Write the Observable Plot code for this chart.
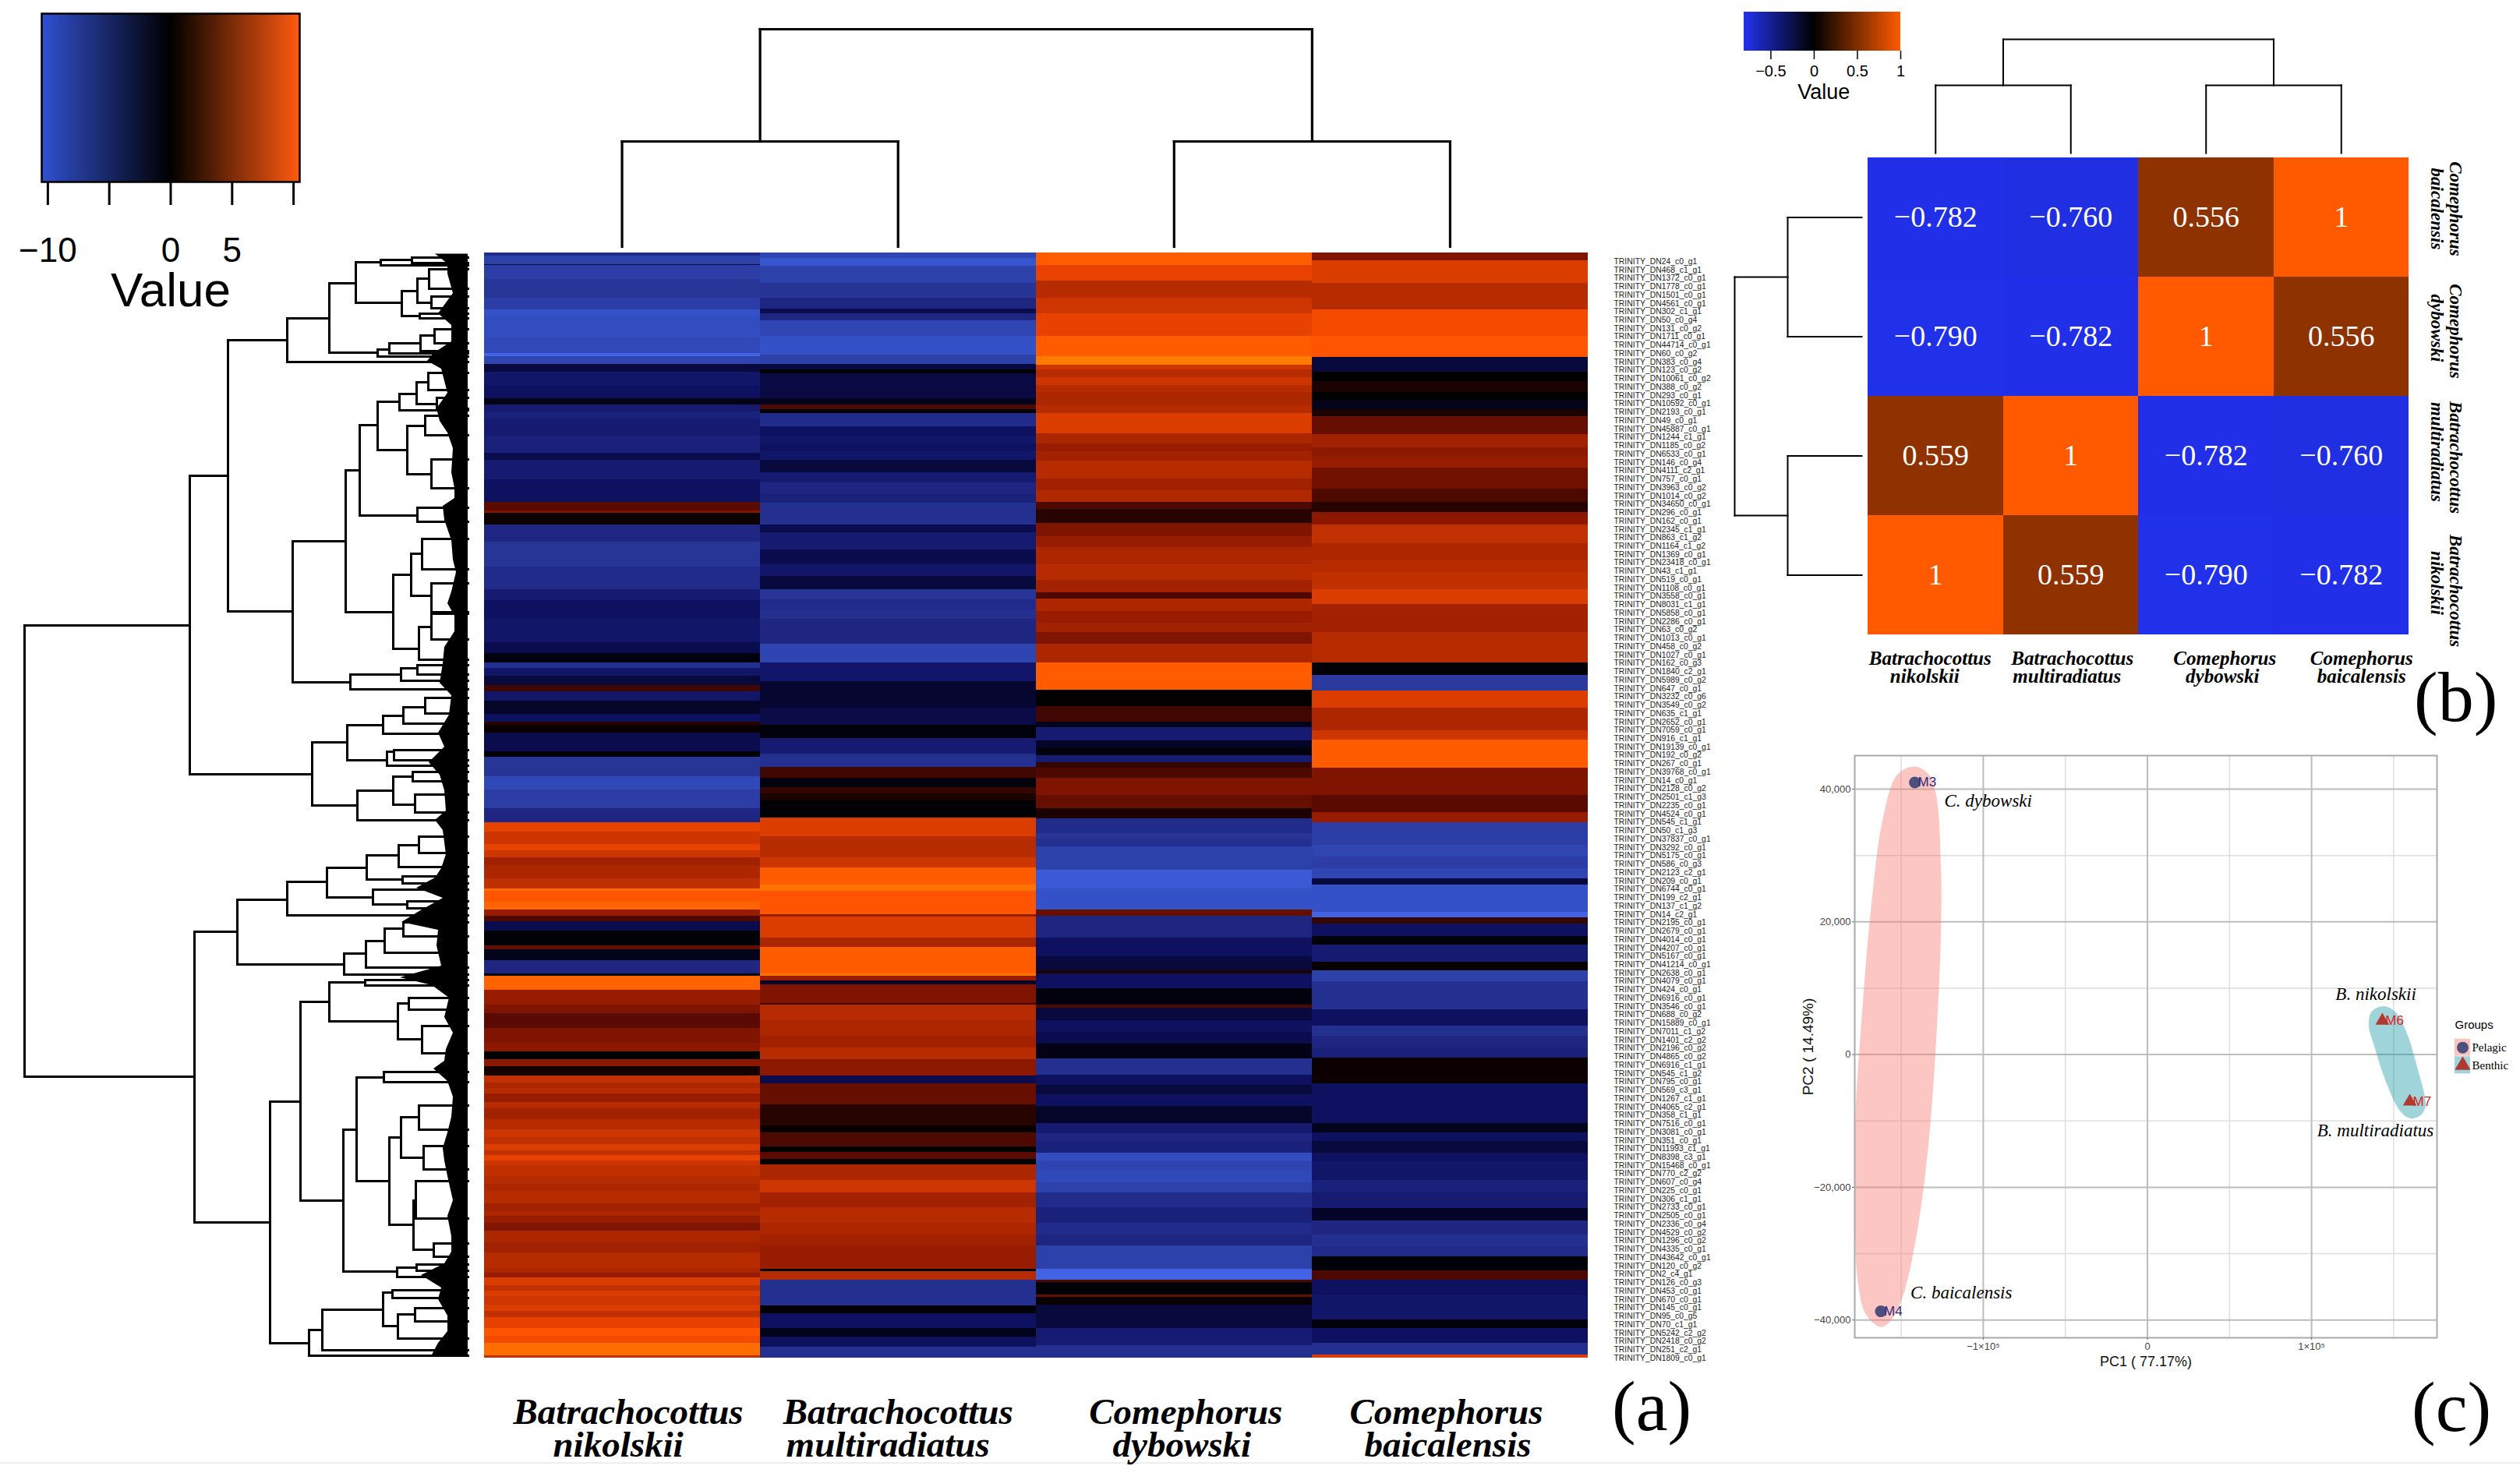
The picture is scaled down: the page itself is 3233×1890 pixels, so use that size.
<!DOCTYPE html>
<html><head><meta charset="utf-8">
<script src="https://cdn.jsdelivr.net/npm/d3@7"></script>
<script src="https://cdn.jsdelivr.net/npm/@observablehq/plot@0.6"></script>
<style>
html,body{margin:0;padding:0;background:#fff}
#root{position:relative;width:3233px;height:1890px;overflow:hidden;background:#fff}
.letter{position:absolute;font-family:"Liberation Serif";font-size:92px;line-height:1;color:#000;white-space:pre}
#rule{position:absolute;left:0;top:1876px;width:3233px;height:2px;background:#eee}
</style></head>
<body><div id="root"><div id="rule"></div></div>
<script>
// ---------- panel (a) data ----------
const speciesA = ["Batrachocottus nikolskii","Batrachocottus multiradiatus","Comephorus dybowski","Comephorus baicalensis"];
const colNik = [[4,-5.5],[15,-8],[16,-2],[34,-7.5],[58,-6.5],[73,-7.5],[82,-10],[109,-9.5],[129,-9],[133,-12],[143,-8.5],[153,-2],[170,-3.5],[187,-3],[195,-0.8],[204,-4],[213,-4.5],[235,-4],[257,-4.5],[266,-2.5],[291,-4],[320,-3],[331,3.5],[334,5],[349,0.5],[371,-5],[403,-6.5],[432,-5.5],[446,-4],[470,-3],[500,-3.5],[514,-2.5],[526,-0.5],[533,-6],[543,-3.5],[555,-2],[563,2.5],[575,-3.5],[592,-1.5],[602,-3],[606,1.5],[616,0.3],[640,-2.5],[647,-0.3],[672,-6.5],[689,-9],[713,-7.5],[731,-5],[743,9.5],[759,8.5],[767,9.5],[776,8.5],[786,6.5],[803,7],[816,8],[819,12],[833,10.5],[843,11.5],[851,6],[858,3],[870,-2.5],[889,-0.3],[894,4],[908,-1],[925,-5],[928,0],[946,11.5],[965,6],[976,5],[995,3.5],[1014,5],[1025,5.5],[1035,0],[1044,5.5],[1056,0.8],[1065,8],[1072,7],[1079,7.5],[1090,6],[1098,7.5],[1112,6.5],[1125,7.5],[1135,8.5],[1144,8],[1152,9],[1158,8],[1165,9.5],[1171,8.5],[1185,8],[1195,7.5],[1204,7],[1220,7.5],[1230,6.5],[1236,7],[1245,6],[1255,5],[1270,7],[1283,6.5],[1291,7.5],[1303,7.5],[1309,7],[1315,6],[1325,9],[1332,8],[1339,9],[1350,8.5],[1358,9],[1366,8],[1380,9.5],[1390,10.5],[1399,10],[1415,12],[1418,8]];
const colMul = [[7,-8.5],[17,-10.5],[39,-8],[58,-6.5],[72,-5],[78,-2.5],[87,-5],[107,-8.5],[131,-10],[143,-8],[150,-2],[155,0],[187,-2.2],[195,-1],[201,3],[206,-0.3],[223,-5.5],[235,-3],[245,-3.5],[255,-3],[266,-3.5],[282,-2],[295,-4],[310,-5],[321,-4.5],[349,-6],[359,-2.5],[381,-4],[400,-2.5],[415,-3.5],[432,-2],[445,-6.5],[458,-5.5],[470,-6],[502,-5],[526,-8.5],[550,-3.5],[584,-1.7],[606,-2.3],[623,-0.4],[643,-4],[660,-6],[674,2.5],[686,-0.5],[694,2],[703,1],[725,-0.2],[749,9],[776,7.5],[789,8.5],[811,11],[819,12.5],[849,10.5],[852,6],[879,9],[891,7],[925,11],[928,12.5],[934,6],[939,-1.5],[963,5],[965,2.5],[985,7.5],[1005,7],[1020,6.5],[1035,7.5],[1056,5.5],[1066,-2.5],[1093,4],[1120,1.5],[1129,0.3],[1147,3],[1154,0],[1163,3.5],[1170,0],[1190,7],[1206,8.5],[1225,6.5],[1245,7.5],[1260,7],[1274,6.5],[1304,6],[1307,0],[1318,7.5],[1351,-6],[1361,-0.2],[1380,-3],[1391,-1],[1404,-3],[1418,-6]];
const colDyb = [[16,11],[36,9.5],[58,7.5],[78,8.5],[107,9.5],[133,11],[144,13],[150,8.5],[160,7.5],[170,8.5],[179,7.5],[196,7],[206,7.5],[232,9],[245,7],[255,6],[267,6.5],[290,7.5],[305,6.5],[320,7.2],[329,3],[347,1.5],[364,5],[378,6],[400,7],[420,7.5],[436,6.5],[444,3],[460,7],[475,6],[487,6.5],[502,5],[526,7],[561,11],[582,0],[602,2.5],[609,-1],[626,-4],[635,-1.5],[645,-0.5],[654,-4],[661,2],[674,3],[696,5],[713,4],[726,1],[745,-5.5],[752,-6.5],[762,-6],[792,-8],[816,-11],[843,-10],[851,4],[879,-5],[903,-3],[921,-2],[925,1],[944,-3],[965,-0.5],[969,3],[985,-2],[1000,-3],[1015,-2.5],[1034,-0.7],[1055,-6],[1068,-3],[1080,-2],[1095,-3],[1117,-1.5],[1130,-4],[1140,-5],[1155,-4.5],[1165,-9.5],[1178,-8.5],[1193,-9],[1206,-8],[1225,-5.5],[1245,-4.5],[1260,-5.5],[1274,-5],[1304,-8],[1318,-12],[1321,3],[1337,-0.3],[1340,4],[1350,0.3],[1380,-2],[1402,-4],[1418,-6]];
const colBai = [[10,5],[39,9],[73,7.5],[107,10],[134,10.5],[153,-2],[165,0],[179,1],[189,0],[201,-1],[210,1],[233,4],[250,6.5],[262,5.5],[276,6],[303,4.5],[320,3],[333,1.5],[349,5.5],[373,8],[395,7],[410,7.5],[432,8],[451,9],[487,6.5],[526,7.5],[542,-0.2],[562,-7],[584,9],[613,7],[625,8.5],[661,11],[696,5],[718,3.5],[731,6],[760,-7.5],[775,-8.5],[790,-7.5],[803,-8.5],[811,-2],[846,-10],[853,-12],[861,2],[877,-3],[888,-0.3],[910,-4],[921,0.3],[935,-8],[971,-6],[992,-3],[1005,-6],[1020,-5],[1033,-4.5],[1066,0.5],[1117,-3],[1129,-1],[1140,-3],[1155,-2],[1166,-3],[1190,-3.5],[1205,-4.5],[1226,-4],[1242,-1.5],[1260,-5],[1275,-6],[1288,-5.5],[1306,-0.3],[1318,3],[1337,-3],[1369,-3.5],[1380,-0.5],[1399,-3],[1414,-6],[1418,9]];
const geneIds = ["24_c0_g1","468_c1_g1","1372_c0_g1","1778_c0_g1","1501_c0_g1","4561_c0_g1","302_c1_g1","50_c0_g4","131_c0_g2","1711_c0_g1","44714_c0_g1","60_c0_g2","383_c0_g4","123_c0_g2","10061_c0_g2","388_c0_g2","293_c0_g1","10592_c0_g1","2193_c0_g1","49_c0_g1","45887_c0_g1","1244_c1_g1","1185_c0_g2","6533_c0_g1","146_c0_g4","4111_c2_g1","757_c0_g1","3963_c0_g2","1014_c0_g2","34650_c0_g1","296_c0_g1","162_c0_g1","2345_c1_g1","863_c1_g2","1164_c1_g2","1369_c0_g1","23418_c0_g1","43_c1_g1","519_c0_g1","1108_c0_g1","3558_c0_g1","8031_c1_g1","5858_c0_g1","2286_c0_g1","63_c0_g2","1013_c0_g1","458_c0_g2","1027_c0_g1","162_c0_g3","1840_c2_g1","5989_c0_g2","647_c0_g1","3232_c0_g6","3549_c0_g2","635_c1_g1","2652_c0_g1","7059_c0_g1","916_c1_g1","19139_c0_g1","192_c0_g2","267_c0_g1","39768_c0_g1","14_c0_g1","2128_c0_g2","2501_c1_g3","2235_c0_g1","4524_c0_g1","545_c1_g1","50_c1_g3","37837_c0_g1","3292_c0_g1","5175_c0_g1","586_c0_g3","2123_c2_g1","209_c0_g1","6744_c0_g1","199_c2_g1","137_c1_g2","14_c2_g1","2195_c0_g1","2679_c0_g1","4014_c0_g1","4207_c0_g1","5167_c0_g1","41214_c0_g1","2638_c0_g1","4079_c0_g1","424_c0_g1","6916_c0_g1","3546_c0_g1","688_c0_g2","15889_c0_g1","7011_c1_g2","1401_c2_g2","2196_c0_g2","4865_c0_g2","6916_c1_g1","545_c1_g2","795_c0_g1","569_c3_g1","1267_c1_g1","4065_c2_g1","358_c1_g1","7516_c0_g1","3081_c0_g1","351_c0_g1","11993_c1_g1","8398_c3_g1","15468_c0_g1","770_c2_g2","607_c0_g4","225_c0_g1","306_c1_g1","2733_c0_g1","2505_c0_g1","2336_c0_g4","4529_c0_g2","1296_c0_g2","4335_c0_g1","43642_c0_g1","120_c0_g2","2_c4_g1","126_c0_g3","453_c0_g1","670_c0_g1","145_c0_g1","95_c0_g5","70_c1_g1","5242_c2_g2","2418_c0_g2","251_c2_g1","1809_c0_g1"];
// merges: [height, rank of upper child, rank of lower child, height of upper child, height of lower child]
const rowTreeA = [
[569,478,1057,357,351],[357,286,669,308,200],[308,112,460,232,225],[232,84,140,178,82],[178,39,128,144,116],[144,12,64,112,85],[112,9,16,72,40],[72,6,13,45,22],[85,49,81,65,62],[65,33,64,50,47],[50,21,46,35,30],[47,56,71,30,25],[62,78,84,30,35],[116,124,133,101,55],[101,116,129,61,40],[61,106,126,43,35],[43,98,116,25,25],
[225,370,551,157,151],[157,279,461,139,96],[139,221,337,116,65],[116,191,253,88,78],[88,181,202,66,49],[66,166,194,51,40],[51,154,176,30,28],[40,186,200,22,20],[78,222,284,55,47],[55,209,234,35,25],[47,265,302,30,28],[65,327,345,40,42],[96,413,508,73,63],[73,386,440,59,47],[59,367,406,35,30],[47,424,461,30,22],[63,480,522,47,40],[47,463,496,25,28],[151,541,560,86,68],[86,533,549,65,50],[65,529,541,40,35],
[200,628,709,155,142],[155,606,651,109,104],[109,594,617,83,75],[83,583,604,55,50],[55,571,591,30,35],[104,640,658,95,75],[95,638,651,70,60],[142,690,728,96,53],[96,672,708,71,68],[71,666,678,50,40],[68,695,718,45,40],
[351,871,1244,296,254],[296,830,913,232,159],[232,807,850,181,152],[181,789,827,130,122],[130,773,804,89,84],[89,760,788,63,49],[63,749,770,40,30],[84,800,809,50,45],[122,817,836,101,78],[78,832,841,60,45],[159,899,926,131,80],[131,883,917,107,80],[107,867,898,83,78],[83,859,877,55,60],
[254,1089,1399,215,204],[215,961,1216,178,160],[178,936,986,132,90],[132,933,940,110,70],[90,963,1009,76,59],[76,956,971,50,40],[59,992,1027,40,35],[160,1125,1307,143,91],[143,1058,1191,108,101],[108,1051,1064,59,49],[101,1135,1247,86,70],[86,1109,1161,63,57],[63,1094,1125,45,38],[57,1146,1176,40,30],[70,1216,1279,67,44],[67,1191,1239,45,30],[44,1271,1288,25,25],[91,1302,1314,66,50],[66,1298,1306,35,30],
[204,1382,1415,187,150],[187,1356,1408,109,83],[109,1334,1377,97,90],[97,1331,1341,65,50],[90,1362,1393,68,60],[68,1354,1371,40,30]];
const brushRank = [1.5,14,27,52,78,93,114,129,139,149,180,200,216,231,251,282,302,315,325,343,369,394,410,435,450,466,486,506,527,552,568,593,616,634,654,670,690,716,728,741,772,790,802,815,828,846,859,869,889,915,930,940,956,981,1001,1022,1037,1047,1063,1083,1109,1129,1149,1165,1185,1216,1236,1262,1282,1297,1312,1328,1343,1364,1384,1399,1414,1417];
const brushHeight = [42,26,26,19,38,21,21,44,52,34,26,40,36,26,19,21,17,17,32,30,21,19,15,21,26,17,17,30,32,36,21,24,38,30,50,36,30,28,42,32,28,34,42,66,32,64,85,38,40,34,87,46,24,30,19,28,30,44,26,19,21,26,32,30,26,19,26,21,21,30,60,34,38,26,26,38,46,46];
const colTreeA = [[279,1,3,135,135],[135,0.5,1.5,0,0],[135,2.5,3.5,0,0]];
const keyTicksA = [-10,-5,0,5,10];
const keyLabelsA = ["−10","","0","5",""];

// ---------- panel (b) data ----------
const colsB = ["Batrachocottus nikolskii","Batrachocottus multiradiatus","Comephorus dybowski","Comephorus baicalensis"];
const rowsB = ["Comephorus baicalensis","Comephorus dybowski","Batrachocottus multiradiatus","Batrachocottus nikolskii"];
const corrB = [[-0.782,-0.760,0.556,1],[-0.790,-0.782,1,0.556],[0.559,1,-0.782,-0.760],[1,0.559,-0.790,-0.782]];
const corrText = [["−0.782","−0.760","0.556","1"],["−0.790","−0.782","1","0.556"],["0.559","1","−0.782","−0.760"],["1","0.559","−0.790","−0.782"]];
const colTreeB = [[146,1,3,87,87],[87,0.5,1.5,0,0],[87,2.5,3.5,0,0]];
const rowTreeB = [[163,1,3,95,95],[95,0.5,1.5,0,0],[95,2.5,3.5,0,0]];
const keyTicksB = [-0.5,0,0.5,1];
const keyLabelsB = ["−0.5","0","0.5","1"];

// ---------- panel (c) data ----------
const samples = ["M3","M4","M6","M7"];
const pc1 = [-141700,-162400,143100,159800];
const pc2 = [41000,-38700,5100,-7100];
const pelagicEdgeX = [-141700,-133200,-128700,-125800,-125800,-128200,-133200,-140500,-149400,-156700,-162600,-171500,-176500,-178200,-177900,-174400,-168500,-161100,-152300];
const pelagicEdgeY = [43400,42200,39100,28660,18200,4310,-13080,-27000,-36730,-40200,-41050,-39170,-33950,-23500,-9600,4310,21700,35600,42200];
const benthicEdgeX = [143800,151100,158500,164400,168800,169400,165900,160000,154100,145200,137900,134900,136400];
const benthicEdgeY = [7300,6400,2920,-1950,-6120,-7860,-9250,-9600,-8560,-4040,1530,4310,6400];
const majorX = [-100000,0,100000], minorX = [-150000,-50000,50000,150000];
const majorY = [-40000,-20000,0,20000,40000], minorY = [-30000,-10000,10000,30000];
const xTickLabels = ["−1×10⁵","0","1×10⁵"];
const yTickLabels = ["−40,000","−20,000","0","20,000","40,000"];
const groups = ["Pelagic","Benthic"];

// ---------- helpers ----------
const root = document.getElementById("root");
const SANS = "Liberation Sans", SERIF = "Liberation Serif";
const baseStyle = {background:"none",fontFamily:SANS,overflow:"visible"};
function place(svg,left,top){
  svg.style.position="absolute";svg.style.left=left+"px";svg.style.top=top+"px";
  svg.style.maxWidth="none";root.appendChild(svg);
}
function letter(t,left,top){const d=document.createElement("div");d.className="letter";d.textContent=t;d.style.left=left+"px";d.style.top=top+"px";root.appendChild(d);}
function mergeSegments(ms){
  return ms.flatMap(([h,a,b,ha,hb])=>[{h1:h,r1:a,h2:h,r2:b},{h1:h,r1:a,h2:ha,r2:a},{h1:h,r1:b,h2:hb,r2:b}]);
}
const colorKeyA = {type:"linear",domain:[-10.5,0,10.5],range:["#3050d0","#000000","#ff5a10"]};
const colorA = {type:"linear",domain:[-13,-10.5,-9,-7,-5,-3,-1.5,0,3.5,6,8,9.5,10.5,13],
  range:["#4a6cf0","#3656d0","#3048b8","#2a3a9e","#1e2682","#0e1060","#05052a","#000000","#5a0a00","#981c00","#c03000","#e84200","#ff5400","#ff7c00"]};
const colorB = {type:"linear",domain:[-0.81,0,1],range:["#2232f0","#000000","#ff5a00"]};
const boldItalic = {fontFamily:SERIF,fontWeight:"bold",fontStyle:"italic",fill:"#000"};

// ---------- (a) colour key ----------
const keyCellsA = d3.range(-10.5,10.5,0.25);
place(Plot.plot({width:420,height:410,marginLeft:53,marginRight:36,marginTop:17,marginBottom:177,style:baseStyle,
  x:{domain:[-10.5,10.5]},y:{domain:[0,1],axis:null},color:colorKeyA,
  marks:[
    Plot.rect(keyCellsA,{x1:d=>d,x2:d=>d+0.26,y1:()=>0,y2:()=>1,fill:d=>d+0.125,shapeRendering:"crispEdges"}),
    Plot.frame({stroke:"#000",strokeWidth:2.5}),
    Plot.axisX({ticks:keyTicksA,tickSize:30,strokeWidth:3,tickPadding:41,fontSize:44,label:null,tickFormat:d=>keyLabelsA[keyTicksA.indexOf(d)],fill:"#000"}),
    Plot.text(["Value"],{x:()=>0,frameAnchor:"bottom",lineAnchor:"middle",dy:140,fontSize:62,fill:"#000"})
  ]}),0,0);

// ---------- (a) column dendrogram ----------
place(Plot.plot({width:1440,height:290,marginLeft:10.5,marginRight:13,marginTop:7,marginBottom:4,style:baseStyle,
  x:{domain:[0,4],axis:null},y:{domain:[0,279],axis:null},
  marks:[Plot.link(mergeSegments(colTreeA),{x1:"r1",x2:"r2",y1:"h1",y2:"h2",stroke:"#000",strokeWidth:3.2,strokeLinecap:"square"})]}),610,30);

// ---------- (a) row dendrogram ----------
const extended = rowTreeA.map(([h,a,b,ha,hb])=>{
  const isMerge=(hc,r)=>rowTreeA.some(m=>m[0]===hc&&m[1]<=r&&r<=m[2]);
  return [h,a,b,isMerge(ha,a)?ha:0,isMerge(hb,b)?hb:0];
});
place(Plot.plot({width:610,height:1426,marginLeft:0,marginRight:10,marginTop:4,marginBottom:4,style:baseStyle,
  x:{domain:[600,0],axis:null},y:{domain:[0,1418],reverse:true,axis:null},
  marks:[
    Plot.link(mergeSegments(extended),{x1:"h1",x2:"h2",y1:"r1",y2:"r2",stroke:"#000",strokeWidth:3,strokeLinecap:"square"}),
    Plot.areaX(brushRank,{y:d=>d,x1:(d,i)=>brushHeight[i],x2:()=>0,fill:"#000"})
  ]}),0,320);

// ---------- (a) heat map ----------
const stripes = [[speciesA[0],colNik],[speciesA[1],colMul],[speciesA[2],colDyb],[speciesA[3],colBai]]
  .flatMap(([species,col])=>col.map(([end,value],i)=>({species,start:i?col[i-1][0]:0,end,value})));
const labelFirst=11, labelStep=10.74;
const headA = [["Batrachocottus",0,8,0],["nikolskii",0,-5,1],["Batrachocottus",1,0,0],["multiradiatus",1,-13,1],["Comephorus",2,15,0],["dybowski",2,10,1],["Comephorus",3,-5,0],["baicalensis",3,-3,1]];
place(Plot.plot({width:1650,height:1570,marginLeft:10.5,marginRight:223,marginTop:4,marginBottom:148,style:baseStyle,
  x:{type:"band",domain:speciesA,padding:0,round:false,axis:null},
  y:{domain:[0,1418],reverse:true,axis:null},color:colorA,
  marks:[
    Plot.barY(stripes,{x:"species",y1:"start",y2:"end",fill:"value",inset:0,shapeRendering:"crispEdges"}),
    Plot.text(geneIds,{y:(d,i)=>labelFirst+i*labelStep,text:d=>"TRINITY_DN"+d,frameAnchor:"right",textAnchor:"start",lineAnchor:"middle",dx:33,fontSize:10.4,fill:"#222"}),
    ...headA.map(([t,c,dx,line])=>Plot.text([t],{x:()=>speciesA[c],frameAnchor:"bottom",lineAnchor:"middle",dx,dy:line?111:69,fontSize:47,...boldItalic}))
  ]}),610,320);
letter("(a)",2068,1758);

// ---------- (b) colour key ----------
const keyCellsB = d3.range(-0.81,1,0.01);
place(Plot.plot({width:250,height:135,marginLeft:17,marginRight:32,marginTop:15,marginBottom:70,style:baseStyle,
  x:{domain:[-0.81,1]},y:{domain:[0,1],axis:null},color:colorB,
  marks:[
    Plot.rect(keyCellsB,{x1:d=>d,x2:d=>d+0.0105,y1:()=>0,y2:()=>1,fill:d=>d+0.005,shapeRendering:"crispEdges"}),
    Plot.axisX({ticks:keyTicksB,tickSize:11,strokeWidth:1.5,tickPadding:7,fontSize:20,label:null,tickFormat:d=>keyLabelsB[keyTicksB.indexOf(d)],fill:"#000"}),
    Plot.text(["Value"],{x:()=>0.11,frameAnchor:"bottom",lineAnchor:"middle",dy:53,fontSize:27,fill:"#000"})
  ]}),2220,0);

// ---------- (b) dendrograms ----------
place(Plot.plot({width:710,height:160,marginLeft:6,marginRight:10,marginTop:10,marginBottom:4,style:baseStyle,
  x:{domain:[0,4],axis:null},y:{domain:[0,146],axis:null},
  marks:[Plot.link(mergeSegments(colTreeB),{x1:"r1",x2:"r2",y1:"h1",y2:"h2",stroke:"#000",strokeWidth:2,strokeLinecap:"square"})]}),2390,40);
place(Plot.plot({width:180,height:620,marginLeft:10,marginRight:7,marginTop:7,marginBottom:1,style:baseStyle,
  x:{domain:[163,0],axis:null},y:{domain:[0,4],reverse:true,axis:null},
  marks:[Plot.link(mergeSegments(rowTreeB),{x1:"h1",x2:"h2",y1:"r1",y2:"r2",stroke:"#000",strokeWidth:2,strokeLinecap:"square"})]}),2215,195);

// ---------- (b) heat map ----------
const cellsB = rowsB.flatMap((r,i)=>colsB.map((c,j)=>({row:r,col:c,value:corrB[i][j],label:corrText[i][j]})));
const sideB = [["Comephorus",0,60,-11],["baicalensis",0,36,-11],["Comephorus",1,60,-7],["dybowski",1,36,-11],["Batrachocottus",2,60,2],["multiradiatus",2,36,-5],["Batrachocottus",3,60,20],["nikolskii",3,36,10]];
const footB = [["Batrachocottus",0,-7,30],["nikolskii",0,-14,53],["Batrachocottus",1,2,30],["multiradiatus",1,-5,53],["Comephorus",2,24,30],["dybowski",2,21,53],["Comephorus",3,26,30],["baicalensis",3,26,53]];
place(Plot.plot({width:840,height:700,marginLeft:16,marginRight:130,marginTop:12,marginBottom:76,style:baseStyle,
  x:{type:"band",domain:colsB,padding:0,round:false,axis:null},
  y:{type:"band",domain:rowsB,padding:0,round:false,axis:null},color:colorB,
  marks:[
    Plot.cell(cellsB,{x:"col",y:"row",fill:"value",inset:0,shapeRendering:"crispEdges"}),
    Plot.text(cellsB,{x:"col",y:"row",text:"label",fill:"#fff",fontFamily:SERIF,fontSize:38}),
    ...sideB.map(([t,r,dx,dy])=>Plot.text([t],{y:()=>rowsB[r],frameAnchor:"right",textAnchor:"middle",lineAnchor:"middle",rotate:90,dx,dy,fontSize:23,...boldItalic})),
    ...footB.map(([t,c,dx,dy])=>Plot.text([t],{x:()=>colsB[c],frameAnchor:"bottom",lineAnchor:"middle",dx,dy,fontSize:25,...boldItalic}))
  ]}),2380,190);
letter("(b)",3097,848);

// ---------- (c) PCA ----------
const pelagicEdge = pelagicEdgeX.map((x,i)=>({x,y:pelagicEdgeY[i]}));
const benthicEdge = benthicEdgeX.map((x,i)=>({x,y:benthicEdgeY[i]}));
const pts = samples.map((s,i)=>({s,x:pc1[i],y:pc2[i]}));
const notes = [{t:"C. dybowski",x:-123700,y:38200},{t:"C. baicalensis",x:-144300,y:-35900},{t:"B. nikolskii",x:114600,y:9040},{t:"B. multiradiatus",x:103400,y:-11480}];
place(Plot.plot({width:850,height:830,marginLeft:89,marginRight:14,marginTop:19,marginBottom:64,style:baseStyle,
  x:{domain:[-178300,176400]},y:{domain:[-42680,45050]},
  marks:[
    Plot.ruleX(minorX,{stroke:"#dedede",strokeWidth:1.5}),
    Plot.ruleY(minorY,{stroke:"#dedede",strokeWidth:1.5}),
    Plot.ruleX(majorX,{stroke:"#bdbdbd",strokeWidth:2}),
    Plot.ruleY(majorY,{stroke:"#bdbdbd",strokeWidth:2}),
    Plot.line(pelagicEdge,{x:"x",y:"y",fill:"#f8766d",fillOpacity:0.42,stroke:"none",curve:"catmull-rom-closed"}),
    Plot.line(benthicEdge,{x:"x",y:"y",fill:"#0c93a2",fillOpacity:0.4,stroke:"none",curve:"catmull-rom-closed"}),
    Plot.frame({stroke:"#aaa",strokeWidth:2}),
    Plot.dot(pts.slice(0,2),{x:"x",y:"y",r:7.5,fill:"#4f4f7e",stroke:"none"}),
    Plot.dot(pts.slice(2),{x:"x",y:"y",r:6.5,symbol:"triangle",fill:"#b03a30",stroke:"none"}),
    Plot.text(pts.slice(0,2),{x:"x",y:"y",text:"s",textAnchor:"start",dx:4,fontSize:17,fill:"#2c2c7c"}),
    Plot.text(pts.slice(2),{x:"x",y:"y",text:"s",textAnchor:"start",dx:4,fontSize:17,fill:"#e02020"}),
    Plot.text(notes,{x:"x",y:"y",text:"t",textAnchor:"start",fontFamily:SERIF,fontStyle:"italic",fontSize:23,fill:"#000"}),
    Plot.axisX({ticks:majorX,tickSize:3,tickPadding:3,fontSize:13,label:null,stroke:"#666",fill:"#444",tickFormat:d=>xTickLabels[majorX.indexOf(d)]}),
    Plot.axisY({ticks:majorY,tickSize:3,tickPadding:2,fontSize:13,label:null,stroke:"#666",fill:"#444",tickFormat:d=>yTickLabels[majorY.indexOf(d)]}),
    Plot.text(["PC1 ( 77.17%)"],{frameAnchor:"bottom",lineAnchor:"middle",dy:31,fontSize:18,fill:"#111"}),
    Plot.text(["PC2 ( 14.49%)"],{frameAnchor:"left",lineAnchor:"middle",textAnchor:"middle",rotate:-90,dx:-60,fontSize:19,fill:"#111"})
  ]}),2290,950);
letter("(c)",3094,1759);

// ---------- (c) legend ----------
place(Plot.plot({width:93,height:90,marginLeft:9,marginRight:64,marginTop:32,marginBottom:12,style:baseStyle,
  x:{type:"band",domain:["key"],padding:0,round:false,axis:null},
  y:{type:"band",domain:groups,padding:0.03,round:false,axis:null},
  marks:[
    Plot.cell(["Pelagic"],{x:()=>"key",y:d=>d,fill:"#fcc4bf"}),
    Plot.cell(["Benthic"],{x:()=>"key",y:d=>d,fill:"#9fd4da"}),
    Plot.dot(["Pelagic"],{x:()=>"key",y:d=>d,r:7.5,fill:"#4f4f7e",stroke:"none"}),
    Plot.dot(["Benthic"],{x:()=>"key",y:d=>d,r:7.5,symbol:"triangle",fill:"#b03a30",stroke:"none"}),
    Plot.text(groups,{x:()=>"key",y:d=>d,textAnchor:"start",dx:12,fontFamily:SERIF,fontSize:15,fill:"#000"}),
    Plot.text(["Groups"],{frameAnchor:"top-left",textAnchor:"start",lineAnchor:"middle",dy:-17,fontSize:15,fill:"#000"})
  ]}),3140,1300);
</script></body></html>
